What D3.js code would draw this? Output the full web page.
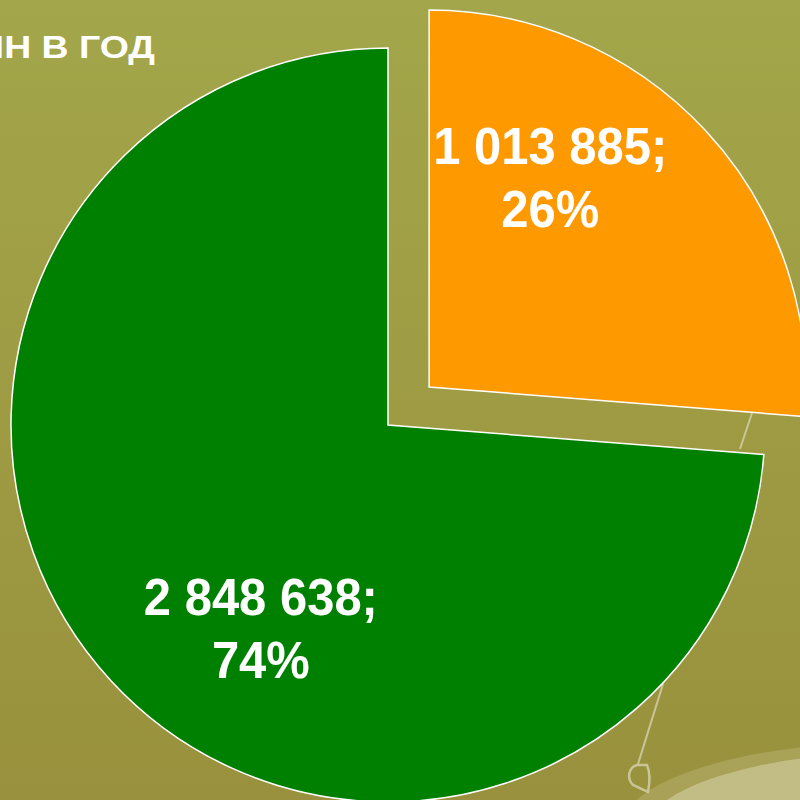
<!DOCTYPE html>
<html>
<head>
<meta charset="utf-8">
<script src="https://cdn.jsdelivr.net/npm/d3@7"></script>
<style>
  html, body { margin: 0; padding: 0; overflow: hidden; }
  text { font-family: 'Liberation Sans', Arial, sans-serif; font-weight: bold; fill: #fff; }
</style>
</head>
<body>
<svg width="800" height="800"></svg>
<script>
const svg = d3.select('svg');

const width = +svg.attr('width');
const height = +svg.attr('height');

// data
const categories = ['Оранжевый', 'Зелёный'];
const values = [1013885, 2848638];
const colors = ['#ff9900', '#008000'];
const titleText = 'ТОНН В ГОД';

const fmtNum = n => d3.format(',')(n).replace(/,/g, ' ');
const total = d3.sum(values);

const render = () => {
    const cx = 388, cy = 425, radius = 377;
    const explode = [56, 0];

    // background gradient
    const defs = svg.append('defs');
    const bg = defs.append('linearGradient')
        .attr('id', 'bg')
        .attr('x1', '0').attr('y1', '0').attr('x2', '0').attr('y2', '1');
    bg.append('stop').attr('offset', '0%').attr('stop-color', '#a3a64a');
    bg.append('stop').attr('offset', '100%').attr('stop-color', '#99913d');

    svg.append('rect')
        .attr('width', width).attr('height', height)
        .attr('fill', 'url(#bg)');

    // decorative ellipse bottom right
    svg.append('ellipse')
        .attr('cx', 895).attr('cy', 830)
        .attr('rx', 275).attr('ry', 88)
        .attr('fill', '#d8d3a8').attr('opacity', 0.25);
    svg.append('ellipse')
        .attr('cx', 900).attr('cy', 836)
        .attr('rx', 258).attr('ry', 84)
        .attr('fill', '#d3cea3').attr('opacity', 0.6);

    // leader lines
    const lead = svg.append('g')
        .attr('stroke', '#d2cea6').attr('stroke-width', 2).attr('fill', 'none')
        .attr('opacity', 0.85);
    lead.append('line').attr('x1', 752).attr('y1', 413).attr('x2', 740).attr('y2', 449);
    lead.append('line').attr('x1', 663).attr('y1', 684).attr('x2', 638).attr('y2', 764);
    lead.append('path')
        .attr('d', 'M637,765 C629,767 626,778 633,785 L648,792 C650,782 650,772 647,765 Z')
        .attr('stroke-width', 2.5);

    const pie = d3.pie().sort(null).value(d => d);
    const arcs = pie(values);
    const arc = d3.arc().innerRadius(0).outerRadius(radius);

    const g = svg.append('g')
        .attr('transform', `translate(${cx},${cy})`);

    const slice = g.selectAll('g.slice').data(arcs)
        .enter().append('g')
            .attr('class', 'slice')
            .attr('transform', (d, i) => {
                const a = (d.startAngle + d.endAngle) / 2;
                return `translate(${Math.sin(a) * explode[i]},${-Math.cos(a) * explode[i]})`;
            });

    slice.append('path')
        .attr('d', arc)
        .attr('fill', (d, i) => colors[i])
        .attr('stroke', '#ffffff')
        .attr('stroke-width', 1.5)
        .attr('stroke-linejoin', 'miter');

    // label placement: [angle offset from mid, radius]
    const labelArc = [
        {da: -0.312, r: 247},
        {da: -0.253, r: 235}
    ];
    slice.append('text')
        .attr('text-anchor', 'middle')
        .attr('font-size', 51)
        .attr('transform', (d, i) => {
            const a = (d.startAngle + d.endAngle) / 2 + labelArc[i].da;
            const r = labelArc[i].r;
            return `translate(${Math.sin(a) * r},${-Math.cos(a) * r}) scale(0.96,1)`;
        })
        .each(function (d) {
            const t = d3.select(this);
            t.append('tspan').attr('x', 0).attr('dy', -8).text(fmtNum(d.data) + ';');
            t.append('tspan').attr('x', 0).attr('dy', 63)
                .text(Math.round(d.data / total * 100) + '%');
        });

    svg.append('text')
        .attr('transform', 'translate(155,58) scale(1.17,1)')
        .attr('text-anchor', 'end')
        .attr('font-size', 32)
        .text(titleText);
};

render();
</script>
</body>
</html>
